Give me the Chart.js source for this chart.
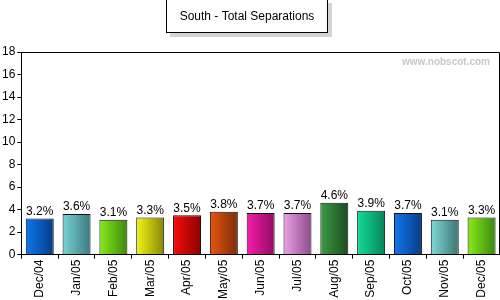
<!DOCTYPE html>
<html><head><meta charset="utf-8">
<script src="https://cdn.jsdelivr.net/npm/chart.js@4/dist/chart.umd.min.js"></script>
<style>html,body{margin:0;padding:0;background:#fff}#wrap{width:500px;height:300px;position:relative}</style>
</head><body><div id="wrap"><canvas id="c" width="500" height="300"></canvas></div>
<script>
const categories = ["Dec/04","Jan/05","Feb/05","Mar/05","Apr/05","May/05","Jun/05","Jul/05","Aug/05","Sep/05","Oct/05","Nov/05","Dec/05"];
const values = [3.2,3.6,3.1,3.3,3.5,3.8,3.7,3.7,4.6,3.9,3.7,3.1,3.3];
const yTicks = [0,2,4,6,8,10,12,14,16,18];
const titleText = "South - Total Separations";
const watermark = "www.nobscot.com";
const lightColors = ["#0a78f0","#78d4d4","#88ec18","#f4f414","#f80c0c","#e8560e","#f81cac","#eca0e8","#3c9c44","#10dc98","#1078f0","#80d8d8","#88ec18"];
const darkColors  = ["#063c84","#3a7a80","#3c8810","#868608","#8c0000","#7c2c08","#900c60","#8c4c88","#1c4c20","#08845a","#083c84","#3c7474","#3c8810"];

const FONT = "'Liberation Sans', Arial, sans-serif";

const extras = {
  id:'extras',
  beforeDraw(chart){
    const ctx = chart.ctx;
    const bx=166, by=-1, bw=162, bh=34;
    ctx.save();
    ctx.fillStyle='#d4d4d4';
    ctx.fillRect(bx+4, by+4, bw, bh);
    ctx.fillStyle='#fff';
    ctx.fillRect(bx, by, bw, bh);
    ctx.strokeStyle='#000'; ctx.lineWidth=1;
    ctx.strokeRect(bx+0.5, by+0.5, bw-1, bh-1);
    ctx.fillStyle='#000'; ctx.font='12px '+FONT;
    ctx.textAlign='center'; ctx.textBaseline='middle';
    ctx.fillText(titleText, bx+bw/2, 17);
    ctx.restore();
  },
  afterDraw(chart){
    const ctx = chart.ctx, a = chart.chartArea;
    ctx.save();
    ctx.strokeStyle='#000'; ctx.lineWidth=1;
    ctx.beginPath();
    ctx.moveTo(a.left, Math.round(a.top)+0.5);
    ctx.lineTo(Math.round(a.right)-0.5, Math.round(a.top)+0.5);
    ctx.lineTo(Math.round(a.right)-0.5, a.bottom);
    ctx.stroke();
    ctx.fillStyle='#c8c8c8'; ctx.font='bold 10px '+FONT;
    ctx.textAlign='right'; ctx.textBaseline='middle';
    ctx.fillText(watermark, a.right-10, 62);
    const meta = chart.getDatasetMeta(0);
    ctx.fillStyle='#000'; ctx.font='12px '+FONT;
    ctx.textAlign='center'; ctx.textBaseline='bottom';
    meta.data.forEach((b,i)=>{
      ctx.fillText(values[i].toFixed(1)+'%', b.x, b.y-1);
    });
    ctx.restore();
  }
};

new Chart(document.getElementById('c'), {
  type:'bar',
  data:{labels:categories, datasets:[{
    data:values,
    backgroundColor(ctx){
      const chart=ctx.chart, i=ctx.dataIndex;
      const xs = chart.scales && chart.scales.x;
      if(!xs) return lightColors[i];
      const cx = xs.getPixelForValue(i);
      const w = (xs.width / categories.length) * 0.76;
      if(!isFinite(cx) || !isFinite(w)) return lightColors[i];
      const g = chart.ctx.createLinearGradient(cx-w/2,0,cx+w/2,0);
      g.addColorStop(0, lightColors[i]);
      g.addColorStop(1, darkColors[i]);
      return g;
    },
    borderColor:'#111', borderWidth:1, borderSkipped:'bottom',
    barPercentage:0.76, categoryPercentage:1
  }]},
  options:{
    responsive:false, animation:false,
    layout:{padding:{top:52,right:0,left:0,bottom:0}},
    plugins:{legend:{display:false}, tooltip:{enabled:false}, title:{display:false}},
    scales:{
      x:{
        grid:{display:true, drawOnChartArea:false, tickLength:4, color:'#000'},
        border:{display:true,color:'#000'},
        ticks:{color:'#000', font:{family:FONT,size:12}, minRotation:90, maxRotation:90, padding:1, autoSkip:false}
      },
      y:{
        min:0, max:18, afterBuildTicks(ax){ ax.ticks = yTicks.map(v=>({value:v})); },
        grid:{display:true, drawOnChartArea:false, tickLength:4, color:'#000'},
        border:{display:true,color:'#000'},
        ticks:{color:'#000', font:{family:FONT,size:12}, padding:2}
      }
    }
  },
  plugins:[extras]
});
</script></body></html>
